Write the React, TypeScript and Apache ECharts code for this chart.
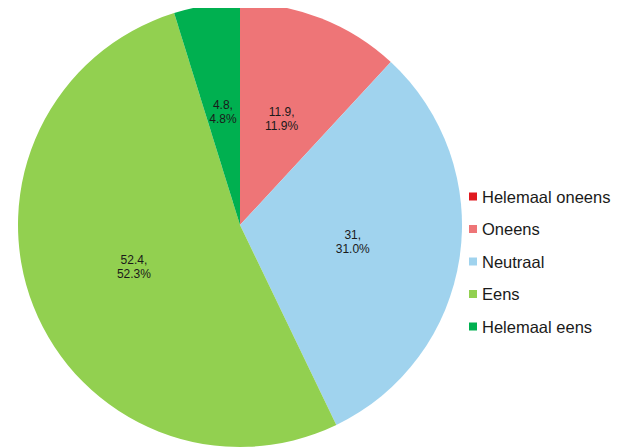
import React, { useEffect, useRef } from "react";
import * as echarts from "echarts";

const categories = ["Helemaal oneens", "Oneens", "Neutraal", "Eens", "Helemaal eens"];
const values = [0, 11.9, 31, 52.4, 4.8];
const colors = ["#e0191f", "#ee7577", "#a0d3ee", "#92d050", "#00b050"];

export default function App() {
  const ref = useRef<HTMLDivElement>(null);
  useEffect(() => {
    if (!ref.current) return;
    const chart = echarts.init(ref.current, null, { renderer: "svg" });
    const total = values.reduce((a, b) => a + b, 0);
    chart.setOption({
      animation: false,
      color: colors,
      legend: {
        orient: "vertical",
        left: 456,
        top: 175,
        icon: "rect",
        itemWidth: 8,
        itemHeight: 8,
        itemGap: 15.5,
        textStyle: { fontFamily: "Liberation Sans", fontSize: 16.5, color: "#1a1a1a" },
        data: categories,
      },
      series: [
        {
          type: "pie",
          center: [232, 217],
          radius: 222,
          startAngle: 90,
          clockwise: true,
          avoidLabelOverlap: false,
          label: {
            show: true,
            position: "inside",
            fontFamily: "Liberation Sans",
            fontSize: 12,
            lineHeight: 14,
            color: "#1a1a1a",
            formatter: (p: any) =>
              p.value === 0 ? "" : `${p.value},\n${((p.value / total) * 100).toFixed(1)}%`,
          },
          labelLine: { show: false },
          emphasis: { disabled: true },
          data: categories.map((name, i) => ({ name, value: values[i] })),
        },
      ],
    });
    return () => chart.dispose();
  }, []);
  return <div ref={ref} style={{ width: 612, height: 440 }} />;
}
